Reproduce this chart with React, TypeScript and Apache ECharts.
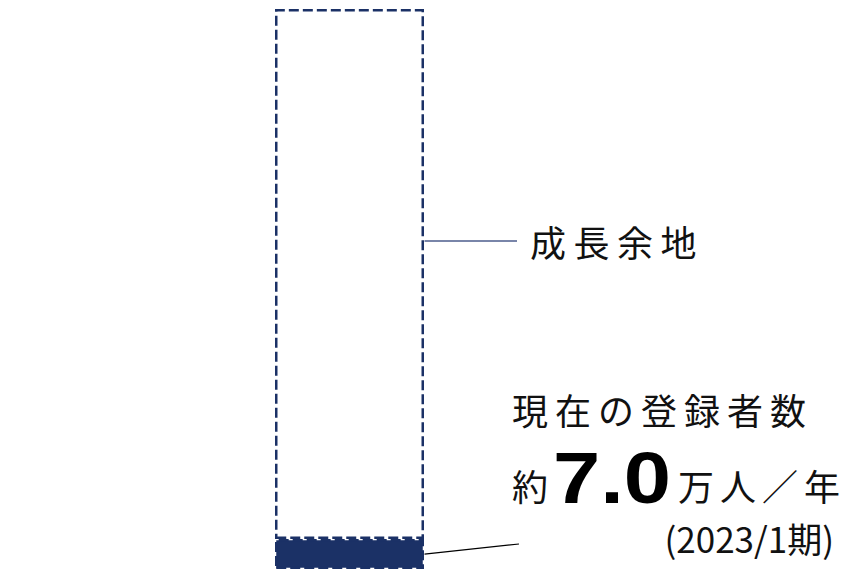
import React, { useEffect, useRef } from "react";
import * as echarts from "echarts";

const categories = ["登録者数"];
const currentValues = [7.0];
const growthValues = [124];
const growthLabelChars = ["成", "長", "余", "地"];
const currentLabelChars = ["現", "在", "の", "登", "録", "者", "数"];
const currentNumber = "7.0";
const unitChars = ["万", "人", "／", "年"];
const periodText = "(2023/1期)";

const NAVY = "#1b3166";
const TEXT = "#111111";
const JP = '"Noto Sans CJK JP", "Noto Sans", sans-serif';

export default function App() {
  const ref = useRef<HTMLDivElement>(null);
  useEffect(() => {
    if (!ref.current) return;
    const chart = echarts.init(ref.current, null, { renderer: "svg" });
    const total = currentValues[0] + growthValues[0];
    chart.setOption({
      animation: false,
      backgroundColor: "#ffffff",
      grid: { left: 275, right: 432, top: 9, bottom: 0 },
      xAxis: { type: "category", data: categories, show: false },
      yAxis: { type: "value", min: 0, max: total, show: false },
      series: [
        {
          type: "bar",
          stack: "a",
          barWidth: "100%",
          data: currentValues,
          itemStyle: { color: NAVY, borderColor: NAVY, borderWidth: 2.5, borderType: [10, 4] },
        },
        {
          type: "bar",
          stack: "a",
          barWidth: "100%",
          data: growthValues,
          itemStyle: { color: "#ffffff", borderColor: NAVY, borderWidth: 2.5, borderType: [10, 4] },
        },
      ],
    });
    const rightEdge = (chart.convertToPixel({ gridIndex: 0 }, [0, 0]) as number[])[0] + 75;
    const navyMid = (chart.convertToPixel({ gridIndex: 0 }, [0, currentValues[0] / 2]) as number[])[1];
    const elements: any[] = [
      { type: "line", shape: { x1: rightEdge, y1: 241, x2: 517, y2: 241 }, style: { stroke: "#4d5d8c", lineWidth: 1.3 } },
      { type: "line", shape: { x1: rightEdge, y1: navyMid, x2: 519, y2: 544 }, style: { stroke: "#000000", lineWidth: 1.2 } },
    ];
    growthLabelChars.forEach((c, i) => {
      elements.push({
        type: "text", x: 530 + i * 43.5, y: 241,
        style: { text: c, font: `36px ${JP}`, fill: TEXT, verticalAlign: "middle", align: "left" },
      });
    });
    currentLabelChars.forEach((c, i) => {
      elements.push({
        type: "text", x: 512 + i * 43, y: 409,
        style: { text: c, font: `36px ${JP}`, fill: TEXT, verticalAlign: "middle", align: "left" },
      });
    });
    elements.push({
      type: "text", x: 512, y: 485,
      style: { text: "約", font: `36px ${JP}`, fill: TEXT, verticalAlign: "middle", align: "left" },
    });
    elements.push({
      type: "text", x: 553, y: 478, scaleX: 1.18,
      style: { text: currentNumber, font: `bold 72px "Liberation Sans", Arial, sans-serif`, fill: "#000000", verticalAlign: "middle", align: "left" },
    });
    unitChars.forEach((c, i) => {
      elements.push({
        type: "text", x: 678 + i * 42, y: 485,
        style: { text: c, font: `36px ${JP}`, fill: TEXT, verticalAlign: "middle", align: "left" },
      });
    });
    elements.push({
      type: "text", x: 834, y: 537,
      style: { text: periodText, font: `35px ${JP}`, fill: TEXT, verticalAlign: "middle", align: "right" },
    });
    chart.setOption({ graphic: { elements } });
    return () => chart.dispose();
  }, []);
  return <div ref={ref} style={{ position: "fixed", left: 0, top: 0, width: 856, height: 569 }} />;
}
